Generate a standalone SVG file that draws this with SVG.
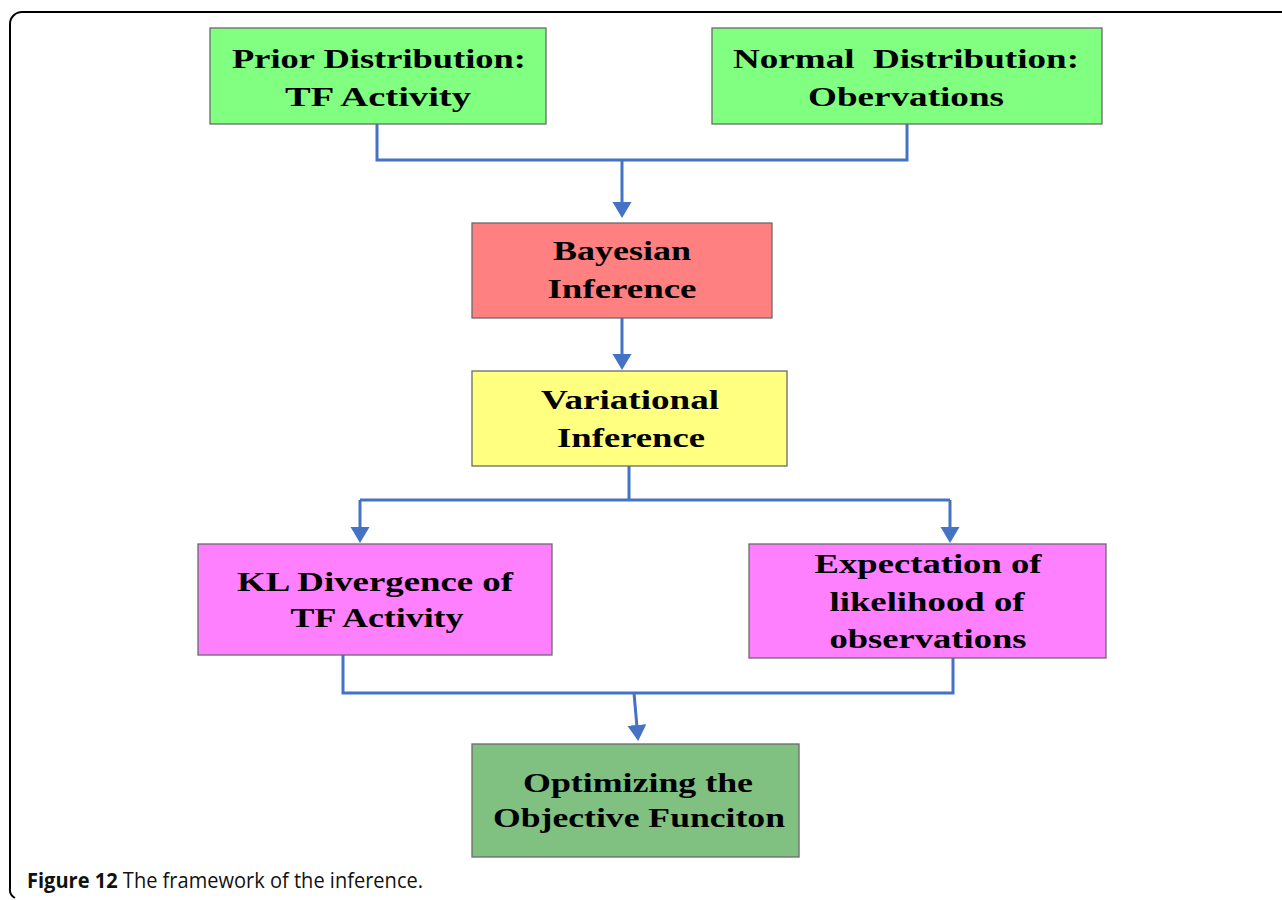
<svg xmlns="http://www.w3.org/2000/svg" width="1282" height="900" viewBox="0 0 1282 900">
<style>
  .box { stroke: #6a6a6a; stroke-width: 1.3; }
  .lbl { font-family: "Liberation Serif", "Times New Roman", serif; font-weight: bold; font-size: 28px; fill: #000; text-anchor: middle; }
  .conn { fill: none; stroke: #4472C4; stroke-width: 3; }
  .cap { font-family: "Open Sans", "Liberation Sans", sans-serif; font-size: 22px; fill: #111; }
</style>
<defs>
  <marker id="arrow" markerUnits="userSpaceOnUse" markerWidth="18" markerHeight="20" refX="0" refY="10" orient="auto">
    <path d="M0,0.5 L16,10 L0,19.5 z" fill="#4472C4"/>
  </marker>
</defs>
<rect width="1282" height="900" fill="#fff"/>
<path d="M1282,12 H22 A12,12 0 0 0 10,24 V888 A10,10 0 0 0 15,898" fill="none" stroke="#000" stroke-width="2"/>

<g id="connectors">
  <path class="conn" d="M377,124 V160 H907 V124"/>
  <path class="conn" d="M622,160 V202" marker-end="url(#arrow)"/>
  <path class="conn" d="M622,318 V354" marker-end="url(#arrow)"/>
  <path class="conn" d="M629,466 V500"/>
  <path class="conn" d="M360,500 H950"/>
  <path class="conn" d="M360,500 V527" marker-end="url(#arrow)"/>
  <path class="conn" d="M950,500 V527" marker-end="url(#arrow)"/>
  <path class="conn" d="M343,655 V693 H953 V658"/>
  <path class="conn" d="M634,693 L636.8,725" marker-end="url(#arrow)"/>
</g>

<g id="prior">
  <rect class="box" x="210" y="28" width="336" height="96" fill="#80FF80"/>
  <text class="lbl" x="379" y="68" textLength="294" lengthAdjust="spacingAndGlyphs">Prior Distribution:</text>
  <text class="lbl" x="378" y="106" textLength="186" lengthAdjust="spacingAndGlyphs">TF Activity</text>
</g>
<g id="normal">
  <rect class="box" x="712" y="28" width="390" height="96" fill="#80FF80"/>
  <text class="lbl" x="906" y="68" textLength="346" lengthAdjust="spacingAndGlyphs" xml:space="preserve">Normal  Distribution:</text>
  <text class="lbl" x="906" y="106" textLength="196" lengthAdjust="spacingAndGlyphs">Obervations</text>
</g>
<g id="bayesian">
  <rect class="box" x="472" y="223" width="300" height="95" fill="#FF8080"/>
  <text class="lbl" x="622" y="260" textLength="138" lengthAdjust="spacingAndGlyphs">Bayesian</text>
  <text class="lbl" x="622" y="298" textLength="149" lengthAdjust="spacingAndGlyphs">Inference</text>
</g>
<g id="variational">
  <rect class="box" x="472" y="371" width="315" height="95" fill="#FFFF80"/>
  <text class="lbl" x="630" y="409" textLength="178" lengthAdjust="spacingAndGlyphs">Variational</text>
  <text class="lbl" x="631" y="447" textLength="148" lengthAdjust="spacingAndGlyphs">Inference</text>
</g>
<g id="kl">
  <rect class="box" x="198" y="544" width="354" height="111" fill="#FF80FF"/>
  <text class="lbl" x="375" y="591" textLength="276" lengthAdjust="spacingAndGlyphs">KL Divergence of</text>
  <text class="lbl" x="377" y="627" textLength="173" lengthAdjust="spacingAndGlyphs">TF Activity</text>
</g>
<g id="expectation">
  <rect class="box" x="749" y="544" width="357" height="114" fill="#FF80FF"/>
  <text class="lbl" x="928" y="573" textLength="227" lengthAdjust="spacingAndGlyphs">Expectation of</text>
  <text class="lbl" x="927" y="611" textLength="195" lengthAdjust="spacingAndGlyphs">likelihood of</text>
  <text class="lbl" x="928" y="648" textLength="197" lengthAdjust="spacingAndGlyphs">observations</text>
</g>
<g id="optimizing">
  <rect class="box" x="472" y="744" width="327" height="113" fill="#80C080"/>
  <text class="lbl" x="638" y="792" textLength="230" lengthAdjust="spacingAndGlyphs">Optimizing the</text>
  <text class="lbl" x="639" y="827" textLength="292" lengthAdjust="spacingAndGlyphs">Objective Funciton</text>
</g>

<text class="cap" x="27" y="888" textLength="396" lengthAdjust="spacingAndGlyphs"><tspan font-weight="bold">Figure 12</tspan><tspan font-weight="500"> The framework of the inference.</tspan></text>
</svg>
